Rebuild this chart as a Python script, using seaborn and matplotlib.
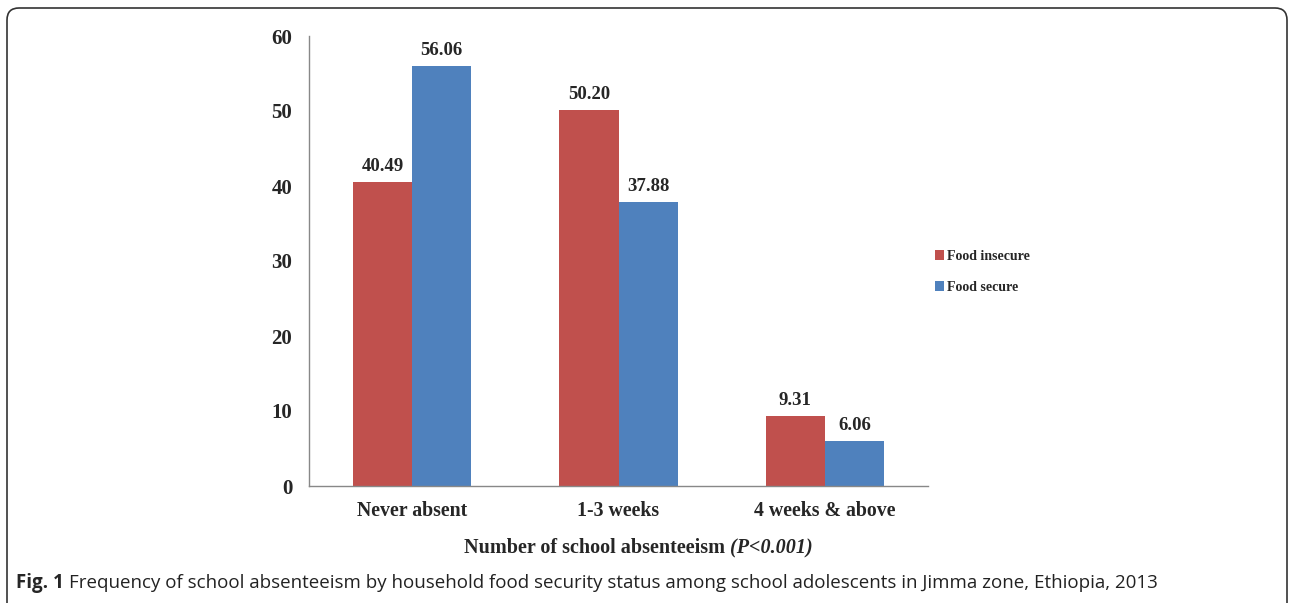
import matplotlib
matplotlib.use("Agg")
import matplotlib.pyplot as plt
from matplotlib.patches import FancyBboxPatch
from matplotlib.transforms import IdentityTransform
import pandas as pd
import seaborn as sns

# values
categories = ["Never absent", "1-3 weeks", "4 weeks & above"]
food_insecure = [40.49, 50.20, 9.31]
food_secure = [56.06, 37.88, 6.06]
groups = ["Food insecure", "Food secure"]
colors = ["#C0504D", "#4F81BD"]

df = pd.DataFrame({
    "absence": categories * 2,
    "status": [groups[0]] * 3 + [groups[1]] * 3,
    "pct": food_insecure + food_secure,
})

sns.set_style("white")
plt.rcParams["font.family"] = ["Liberation Serif", "DejaVu Serif"]

fig = plt.figure(figsize=(12.9, 6.03), dpi=100)
ax = fig.add_axes([309 / 1290, 117 / 603, 619 / 1290, 450 / 603])

sns.barplot(data=df, x="absence", y="pct", hue="status", palette=colors,
            width=0.572, gap=0, saturation=1, linewidth=0, ax=ax, legend=True)

for c in ax.containers:
    ax.bar_label(c, fmt="%.2f", padding=5, fontsize=13.5, fontweight="bold")

ax.set_ylim(0, 60)
ax.set_xlim(-0.5, 2.5)
ax.set_yticks(range(0, 61, 10))
ax.tick_params(axis="y", length=0, pad=12, labelsize=15)
ax.tick_params(axis="x", length=0, pad=11, labelsize=14.3)
for lab in ax.get_xticklabels() + ax.get_yticklabels():
    lab.set_fontweight("bold")
ax.set_xlabel("")
ax.set_ylabel("")
for s in ["top", "right"]:
    ax.spines[s].set_visible(False)
for s in ["left", "bottom"]:
    ax.spines[s].set_color("#888888")
    ax.spines[s].set_linewidth(1)

handles, labels = ax.get_legend_handles_labels()
ax.get_legend().remove()
fig.legend(handles, labels, loc="center left", bbox_to_anchor=(922 / 1290, 1 - 272 / 603),
           frameon=False, handlelength=0.7, handleheight=0.7, handletextpad=0.2,
           labelspacing=1.3, prop={"weight": "bold", "size": 10})

# x axis title, bold with italic p-value
t1 = fig.text(464 / 1290, 1 - 548 / 603, "Number of school absenteeism ",
              fontsize=14.5, fontweight="bold", va="center", ha="left")
fig.canvas.draw()
r = fig.canvas.get_renderer()
bb = t1.get_window_extent(r)
fig.text(bb.x1 / 1290, 1 - 548 / 603, "(P<0.001)", fontsize=14.5, fontweight="bold",
         fontstyle="italic", va="center", ha="left")

# caption
c1 = fig.text(16 / 1290, 1 - 583 / 603, "Fig. 1 ", fontsize=13.5, fontweight="bold",
              family=["Open Sans", "DejaVu Sans"], va="center", ha="left")
bb = c1.get_window_extent(r)
fig.text(bb.x1 / 1290, 1 - 583 / 603,
         "Frequency of school absenteeism by household food security status among "
         "school adolescents in Jimma zone, Ethiopia, 2013",
         fontsize=13.5, family=["Open Sans", "DejaVu Sans"], va="center", ha="left",
         color="#222222")

# rounded frame round the whole figure (pixel coordinates)
frame = FancyBboxPatch((7, -30), 1280, 603 - 8 + 30,
                       boxstyle="round,pad=0,rounding_size=12",
                       transform=IdentityTransform(), fill=False, edgecolor="#333333",
                       linewidth=1.2)
fig.patches.append(frame)

fig.savefig("out.png", dpi=100)
